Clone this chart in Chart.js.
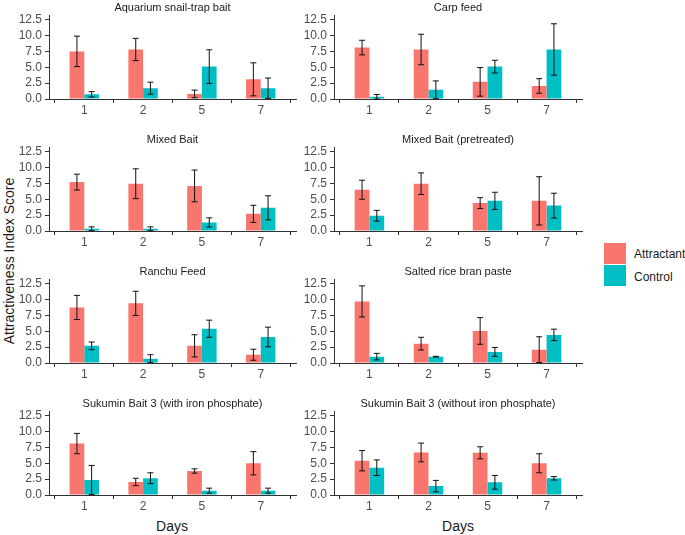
<!DOCTYPE html>
<html>
<head>
<meta charset="utf-8">
<script src="https://cdn.jsdelivr.net/npm/chart.js@4.4.1/dist/chart.umd.min.js"></script>
<style>
  body { margin: 0; background: #fff; }
  #wrap { position: relative; width: 685px; height: 535px; overflow: hidden; background: #fff;
          font-family: "Liberation Sans", Arial, sans-serif; color: #1a1a1a; }
  #wrap canvas { position: absolute; }
  .lbl { position: absolute; white-space: nowrap; }
  .key { position: absolute; width: 22px; height: 21px; }
</style>
</head>
<body>
<div id="wrap">
  <div class="lbl" style="left:-86px; top:253px; width:190px; text-align:center; font-size:14px; transform:rotate(-90deg);">Attractiveness Index Score</div>
  <div class="lbl" style="left:122px; top:518px; width:100px; text-align:center; font-size:14px;">Days</div>
  <div class="lbl" style="left:408px; top:518px; width:100px; text-align:center; font-size:14px;">Days</div>
  <div class="key" style="left:604px; top:243px; background:#F8766D;"></div>
  <div class="key" style="left:604px; top:265px; background:#00BFC4;"></div>
  <div class="lbl" style="left:634px; top:247px; font-size:12px;">Attractant</div>
  <div class="lbl" style="left:634px; top:270px; font-size:12px;">Control</div>
</div>
<script>
// 数据
const days = ['1', '2', '5', '7'];
const panelNames = [
    'Aquarium snail-trap bait', 'Carp feed',
    'Mixed Bait', 'Mixed Bait (pretreated)',
    'Ranchu Feed', 'Salted rice bran paste',
    'Sukumin Bait 3 (with iron phosphate)', 'Sukumin Bait 3 (without iron phosphate)'
];
const attractantMean = [
    [7.5, 7.8, 0.8, 3.1],
    [8.1, 7.8, 2.7, 2.05],
    [7.7, 7.45, 7.1, 2.7],
    [6.5, 7.45, 4.4, 4.75],
    [8.75, 9.4, 2.7, 1.3],
    [9.7, 3.05, 5.05, 2.1],
    [8.1, 2.05, 3.78, 5.0],
    [5.4, 6.7, 6.65, 5.0]
];
const attractantSE = [
    [2.4, 1.75, 0.6, 2.6],
    [1.15, 2.4, 2.25, 1.15],
    [1.25, 2.35, 2.5, 1.35],
    [1.5, 1.7, 0.85, 3.8],
    [1.9, 1.9, 1.75, 0.87],
    [2.45, 1.0, 2.1, 2.03],
    [1.6, 0.58, 0.34, 1.83],
    [1.6, 1.48, 0.95, 1.5]
];
const controlMean = [
    [0.74, 1.7, 5.1, 1.7],
    [0.35, 1.45, 5.1, 7.8],
    [0.35, 0.35, 1.35, 3.65],
    [2.4, 0, 4.75, 4.0],
    [2.7, 0.68, 5.4, 4.1],
    [1.0, 1.0, 1.75, 4.43],
    [2.36, 2.65, 0.68, 0.68],
    [4.3, 1.4, 2.0, 2.63]
];
const controlSE = [
    [0.42, 0.95, 2.65, 1.6],
    [0.35, 1.4, 1.0, 4.05],
    [0.3, 0.3, 0.72, 1.9],
    [0.85, null, 1.35, 1.95],
    [0.6, 0.63, 1.35, 1.55],
    [0.52, 0.05, 0.7, 0.9],
    [2.3, 0.85, 0.4, 0.4],
    [1.23, 0.9, 1.08, 0.27]
];
const yTicks = [0, 2.5, 5, 7.5, 10, 12.5];

const FONT = '"Liberation Sans", Arial, sans-serif';
const AXIS = '#333';

// 误差线插件
const errorBars = {
    id: 'errorBars',
    afterDatasetsDraw(chart) {
        const ctx = chart.ctx;
        const y = chart.scales.y;
        ctx.save();
        ctx.strokeStyle = '#111';
        ctx.lineWidth = 1;
        chart.data.datasets.forEach((ds, i) => {
            const meta = chart.getDatasetMeta(i);
            meta.data.forEach((bar, j) => {
                const se = ds.errors[j];
                if (se == null) return;
                const m = ds.data[j].y;
                const top = y.getPixelForValue(m + se);
                const bot = y.getPixelForValue(Math.max(m - se, 0));
                const x = bar.x;
                ctx.beginPath();
                ctx.moveTo(x, top); ctx.lineTo(x, bot);
                ctx.moveTo(x - 3, top); ctx.lineTo(x + 3, top);
                ctx.moveTo(x - 3, bot); ctx.lineTo(x + 3, bot);
                ctx.stroke();
            });
        });
        ctx.restore();
    }
};

function toPoints(arr) {
    return arr.map((v, i) => ({ x: i, y: v }));
}

function createPanel(idx, left, top, padRight) {
    const canvas = document.createElement('canvas');
    canvas.width = 300;
    canvas.height = 122;
    canvas.style.left = left + 'px';
    canvas.style.top = top + 'px';
    document.getElementById('wrap').appendChild(canvas);

    return new Chart(canvas.getContext('2d'), {
        type: 'bar',
        data: {
            datasets: [
                {
                    label: 'Attractant',
                    data: toPoints(attractantMean[idx]),
                    errors: attractantSE[idx],
                    backgroundColor: '#F8766D'
                },
                {
                    label: 'Control',
                    data: toPoints(controlMean[idx]),
                    errors: controlSE[idx],
                    backgroundColor: '#00BFC4'
                }
            ]
        },
        options: {
            responsive: false,
            animation: false,
            categoryPercentage: 0.5,
            barPercentage: 1.0,
            layout: { padding: { top: 0, right: padRight, bottom: 0, left: 0 } },
            plugins: {
                legend: { display: false },
                tooltip: { enabled: false },
                title: {
                    display: true,
                    text: panelNames[idx],
                    fullSize: false,
                    color: '#1a1a1a',
                    font: { family: FONT, size: 11, weight: 'normal' },
                    padding: { top: 2, bottom: 1 }
                }
            },
            scales: {
                x: {
                    type: 'linear',
                    min: -0.6,
                    max: 3.6,
                    offset: false,
                    afterBuildTicks: s => { s.ticks = days.map((d, i) => ({ value: i })); },
                    afterFit: s => { s.height = 22; },
                    grid: { drawOnChartArea: false, drawTicks: true, tickLength: 4, color: AXIS },
                    border: { display: true, color: AXIS, width: 1 },
                    ticks: {
                        padding: 0,
                        maxRotation: 0,
                        autoSkip: false,
                        color: '#4d4d4d',
                        font: { family: FONT, size: 12 },
                        callback: v => days[v]
                    }
                },
                y: {
                    min: 0,
                    max: 13.2,
                    afterBuildTicks: s => { s.ticks = yTicks.map(v => ({ value: v })); },
                    afterFit: s => { s.width = 49; },
                    grid: { drawOnChartArea: false, drawTicks: true, tickLength: 4, color: AXIS },
                    border: { display: true, color: AXIS, width: 1 },
                    ticks: {
                        padding: 3,
                        autoSkip: false,
                        color: '#4d4d4d',
                        font: { family: FONT, size: 12 },
                        callback: v => v.toFixed(1)
                    }
                }
            }
        },
        plugins: [errorBars]
    });
}

const rowTops = [-1, 131, 263, 395];
panelNames.forEach((name, i) => {
    const row = Math.floor(i / 2);
    const col = i % 2;
    if (col === 0) createPanel(i, 0, rowTops[row], 4);
    else createPanel(i, 285, rowTops[row], 3);
});
</script>
</body>
</html>
